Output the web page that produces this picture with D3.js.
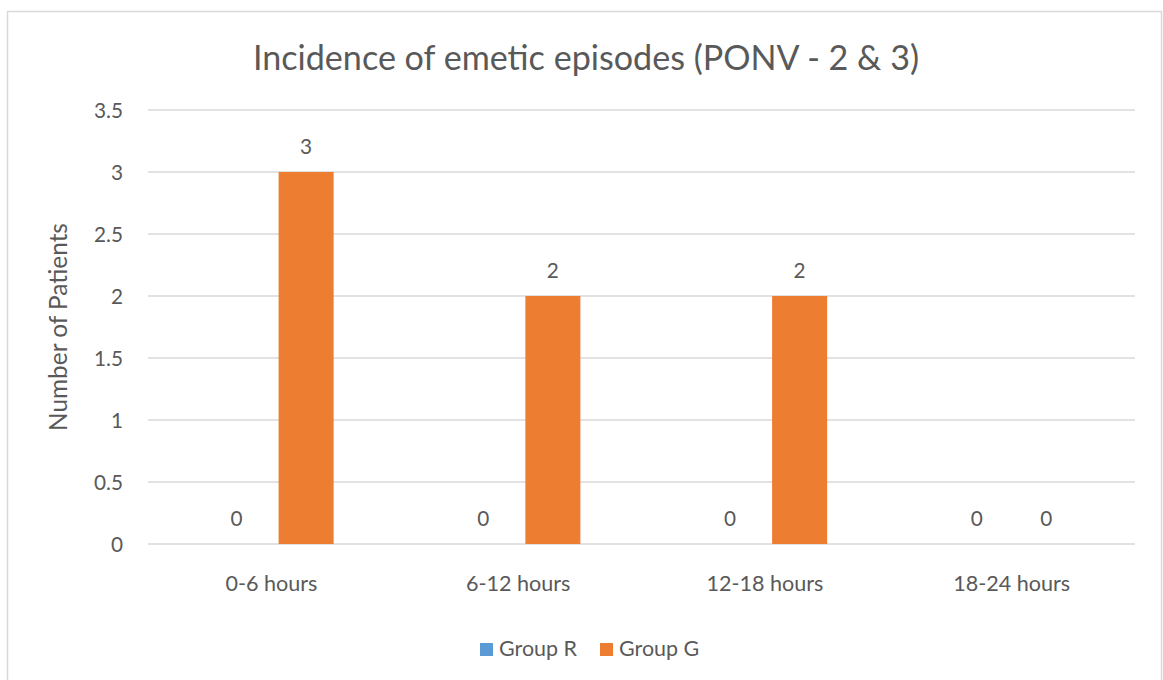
<!DOCTYPE html>
<html>
<head>
<meta charset="utf-8">
<script src="https://cdn.jsdelivr.net/npm/d3@7"></script>
<style>
  html, body { margin: 0; padding: 0; background: #fff; }
  svg { display: block; }
  text { font-family: Lato, "Open Sans", sans-serif; fill: #595959; }
</style>
</head>
<body>
<svg id="chart" width="1163" height="680"></svg>
<script>
// Chart data
const categories = ["0-6 hours", "6-12 hours", "12-18 hours", "18-24 hours"];
const seriesNames = ["Group R", "Group G"];
const groupR = [0, 0, 0, 0];
const groupG = [3, 2, 2, 0];
const yTicks = [0, 0.5, 1, 1.5, 2, 2.5, 3, 3.5];
const colors = ["#5B9BD5", "#ED7D31"];

const svg = d3.select("#chart");

// scale a text's font size so its rendered width reaches a target width
function fitWidth(sel, target, base) {
  sel.each(function () {
    const el = d3.select(this);
    el.style("font-size", base + "px");
    const w = this.getComputedTextLength();
    if (w > 0) el.style("font-size", (base * target / w).toFixed(2) + "px");
  });
}

// outer chart frame
svg.append("rect")
  .attr("x", 7.5).attr("y", 11.5)
  .attr("width", 1154).attr("height", 680)
  .attr("fill", "#fff").attr("stroke", "#D9D9D9").attr("stroke-width", 1.5);

const plot = { left: 148, right: 1135, top: 110, bottom: 544 };

const x = d3.scaleBand().domain(categories).range([plot.left, plot.right]).padding(0);
const y = d3.scaleLinear().domain([0, 3.5]).range([plot.bottom, plot.top]);

// bar geometry within each category band
const barW = x.bandwidth() * 0.223;
const barStep = x.bandwidth() * 0.2816;
const inner = d3.scaleOrdinal().domain(seriesNames).range([-barStep / 2, barStep / 2]);

// gridlines
svg.append("g")
  .selectAll("line")
  .data(yTicks)
  .join("line")
  .attr("x1", plot.left).attr("x2", plot.right)
  .attr("y1", d => y(d)).attr("y2", d => y(d))
  .attr("stroke", "#D9D9D9").attr("stroke-width", 1.3);

// y axis labels
const yAxis = d3.axisLeft(y).tickValues(yTicks).tickSize(0).tickPadding(0)
  .tickFormat(d => String(d));
const yG = svg.append("g")
  .attr("transform", `translate(${plot.left - 25},0)`)
  .call(yAxis)
  .call(g => g.select(".domain").remove());
yG.selectAll("text")
  .style("font-family", "Lato, 'Open Sans', sans-serif")
  .attr("fill", "#595959").attr("dy", "0.35em");
const tickSize = (() => {
  const t = yG.selectAll("text").filter(d => d === 3.5);
  fitWidth(t, 29, 18);
  return t.style("font-size");
})();
yG.selectAll("text").style("font-size", tickSize);

// x axis labels
const xAxis = d3.axisBottom(x).tickSize(0).tickPadding(0);
const xG = svg.append("g")
  .attr("transform", `translate(0,${plot.bottom + 47})`)
  .call(xAxis)
  .call(g => g.select(".domain").remove());
xG.selectAll("text")
  .style("font-family", "Lato, 'Open Sans', sans-serif")
  .attr("fill", "#595959").attr("dy", "0");
const xSize = (() => {
  const t = xG.selectAll("text").filter(d => d === "0-6 hours");
  fitWidth(t, 92, 18);
  return t.style("font-size");
})();
xG.selectAll("text").style("font-size", xSize);

// bars and value labels
const rows = categories.map((c, i) => ({ cat: c, vals: [groupR[i], groupG[i]] }));
const groups = svg.append("g").selectAll("g")
  .data(rows).join("g")
  .attr("transform", d => `translate(${x(d.cat) + x.bandwidth() / 2},0)`);

groups.selectAll("rect")
  .data(d => d.vals.map((v, j) => ({ name: seriesNames[j], v, j })))
  .join("rect")
  .attr("x", d => inner(d.name) - barW / 2)
  .attr("width", barW)
  .attr("y", d => y(d.v))
  .attr("height", d => y(0) - y(d.v))
  .attr("fill", d => colors[d.j]);

groups.selectAll("text.val")
  .data(d => d.vals.map((v, j) => ({ name: seriesNames[j], v, j })))
  .join("text")
  .attr("class", "val")
  .attr("x", d => inner(d.name))
  .attr("y", d => y(d.v) - 18)
  .attr("text-anchor", "middle")
  .style("font-size", tickSize)
  .text(d => d.v);

// title
const title = svg.append("text")
  .attr("x", 586).attr("y", 70)
  .attr("text-anchor", "middle")
  .text("Incidence of emetic episodes (PONV - 2 & 3)");
fitWidth(title, 666, 31);

// y axis title
const yTitle = svg.append("text")
  .attr("transform", `translate(67,${(plot.top + plot.bottom) / 2}) rotate(-90)`)
  .attr("text-anchor", "middle")
  .text("Number of Patients");
fitWidth(yTitle, 208, 18);

// legend
const legend = svg.append("g");
const legendX = [480, 600];
const legendTexts = [];
seriesNames.forEach((n, i) => {
  legend.append("rect")
    .attr("x", legendX[i]).attr("y", 643)
    .attr("width", 13).attr("height", 13)
    .attr("fill", colors[i]);
  legendTexts.push(legend.append("text")
    .attr("x", legendX[i] + 19).attr("y", 656)
    .text(n));
});
fitWidth(legendTexts[0], 78, 18);
legendTexts[1].style("font-size", legendTexts[0].style("font-size"));
</script>
</body>
</html>
